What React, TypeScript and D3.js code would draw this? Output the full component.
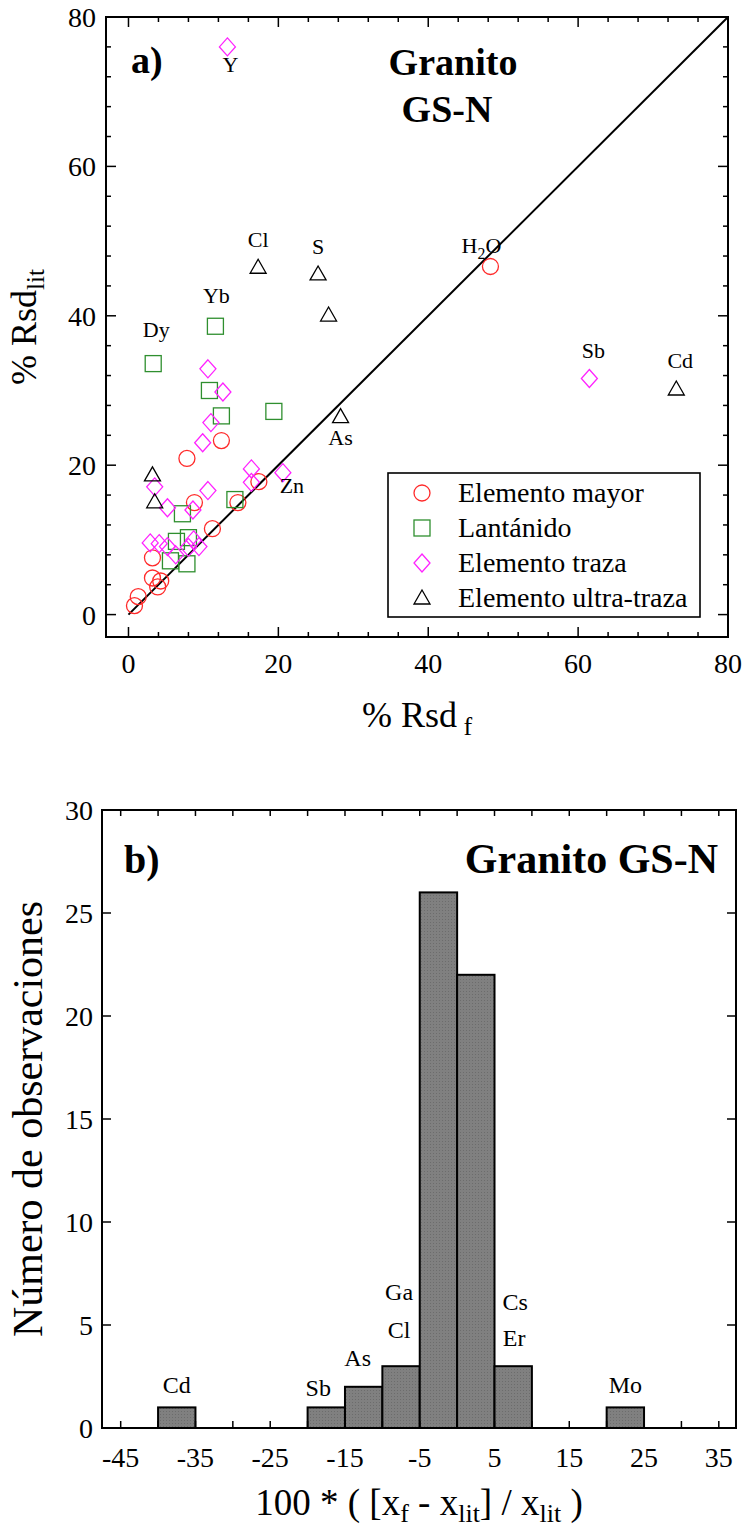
import React from 'react';
import * as d3 from 'd3';

type Pt = { el?: string; f: number; lit: number };

// Panel a) — %RSD from this work (f) versus literature (lit), GS-N granite
const mayor: Pt[] = [
  { el: 'H2O', f: 48.3, lit: 46.6 },
  { f: 12.4, lit: 23.3 }, { f: 7.8, lit: 20.9 }, { f: 17.4, lit: 17.8 },
  { f: 8.8, lit: 15.0 }, { f: 14.6, lit: 15.0 }, { f: 11.2, lit: 11.5 },
  { f: 3.2, lit: 7.6 }, { f: 3.2, lit: 4.9 }, { f: 4.3, lit: 4.5 },
  { f: 3.9, lit: 3.7 }, { f: 1.3, lit: 2.4 }, { f: 0.8, lit: 1.2 },
];
const lantanido: Pt[] = [
  { el: 'Dy', f: 3.3, lit: 33.6 }, { el: 'Yb', f: 11.6, lit: 38.6 },
  { f: 10.8, lit: 30.0 }, { f: 12.4, lit: 26.6 }, { f: 19.4, lit: 27.2 },
  { f: 14.2, lit: 15.4 }, { f: 7.2, lit: 13.5 }, { f: 6.4, lit: 9.8 },
  { f: 8.0, lit: 10.3 }, { f: 5.6, lit: 7.2 }, { f: 7.8, lit: 6.8 },
];
const traza: Pt[] = [
  { el: 'Y', f: 13.2, lit: 76.0 }, { el: 'Sb', f: 61.5, lit: 31.6 },
  { f: 10.6, lit: 32.9 }, { f: 12.6, lit: 29.8 }, { f: 11.0, lit: 25.7 },
  { f: 9.9, lit: 23.0 }, { f: 16.4, lit: 19.5 }, { el: 'Zn', f: 20.6, lit: 19.0 },
  { f: 16.4, lit: 17.7 }, { f: 3.5, lit: 17.1 }, { f: 10.6, lit: 16.6 },
  { f: 5.2, lit: 14.3 }, { f: 8.6, lit: 14.0 }, { f: 2.9, lit: 9.6 },
  { f: 4.1, lit: 9.5 }, { f: 5.2, lit: 9.1 }, { f: 8.7, lit: 10.0 },
  { f: 8.0, lit: 9.0 }, { f: 9.4, lit: 9.1 }, { f: 6.3, lit: 8.0 },
];
const ultraTraza: Pt[] = [
  { el: 'Cl', f: 17.3, lit: 46.5 }, { el: 'S', f: 25.3, lit: 45.6 },
  { f: 26.7, lit: 40.1 }, { el: 'As', f: 28.3, lit: 26.5 },
  { el: 'Cd', f: 73.1, lit: 30.2 }, { f: 3.2, lit: 18.7 }, { f: 3.5, lit: 15.1 },
];

const seriesNames = ['Elemento mayor', 'Lantánido', 'Elemento traza', 'Elemento ultra-traza'];
const scatterTicks = [0, 20, 40, 60, 80];

// Panel b) — relative deviation histogram, bins of width 5
const binStarts = [-40, -20, -15, -10, -5, 0, 5, 20];
const binCounts = [1, 1, 2, 3, 26, 22, 3, 1];
const binWidth = 5;
const binLabels: { bin: number; names: string[] }[] = [
  { bin: -40, names: ['Cd'] },
  { bin: -20, names: ['Sb'] },
  { bin: -15, names: ['As'] },
  { bin: -10, names: ['Cl', 'Ga'] },
  { bin: 5, names: ['Er', 'Cs'] },
  { bin: 20, names: ['Mo'] },
];
const histXTickLabels = [-45, -35, -25, -15, -5, 5, 15, 25, 35];
const histYTicks = [0, 5, 10, 15, 20, 25, 30];

const SERIF = '"Liberation Serif", "Times New Roman", serif';

// marker styles per series
const markerStyle = [
  { shape: 'circle', color: '#ff2a2a' },
  { shape: 'square', color: '#2f8f2f' },
  { shape: 'diamond', color: '#ff22ff' },
  { shape: 'triangle', color: '#000000' },
];

function Marker({ shape, color, x, y }: { shape: string; color: string; x: number; y: number }) {
  const common = { fill: 'none', stroke: color, strokeWidth: 1.3 };
  if (shape === 'circle') return <circle cx={x} cy={y} r={8} {...common} />;
  if (shape === 'square') return <rect x={x - 8} y={y - 8} width={16} height={16} {...common} />;
  if (shape === 'diamond')
    return <path d={`M${x},${y - 9}L${x + 8},${y}L${x},${y + 9}L${x - 8},${y}Z`} {...common} />;
  return <path d={`M${x},${y - 8}L${x + 8},${y + 6}L${x - 8},${y + 6}Z`} {...common} />;
}

// label placement around labelled points (pixels)
const labelShift: Record<string, [number, number]> = {
  Y: [3, 25], Dy: [3, -27], Yb: [1, -23], Cl: [0, -20], S: [0, -20],
  As: [0, 28], Zn: [9, 20], H2O: [-9, -13], Sb: [4, -21], Cd: [4, -21],
};

function ChemLabel({ name, x, y, size }: { name: string; x: number; y: number; size: number }) {
  const parts = name.split(/(\d+)/).filter((p) => p.length > 0);
  return (
    <text x={x} y={y} dy="0.35em" textAnchor="middle" fontFamily={SERIF} fontSize={size} fill="#000">
      {parts.map((p, i) =>
        /\d/.test(p) ? (
          <tspan key={i} fontSize={size * 0.72} dy={6}>{p}</tspan>
        ) : (
          <tspan key={i} dy={i > 0 && /\d/.test(parts[i - 1]) ? -6 : 0}>{p}</tspan>
        )
      )}
    </text>
  );
}

export default function App() {
  // ---------- scatter ----------
  const L = 106, R = 728, T = 17, B = 637;
  const sx = d3.scaleLinear().domain([-3, 80]).range([L, R]);
  const sy = d3.scaleLinear().domain([-3, 80]).range([B, T]);
  const minor = d3.range(0, 81, 4).filter((v) => v % 20 !== 0);
  const series = [mayor, lantanido, traza, ultraTraza];

  const scatterTickLines: React.ReactNode[] = [];
  const addTicks = (vals: number[], len: number, key: string) => {
    vals.forEach((v) => {
      const px = sx(v), py = sy(v);
      scatterTickLines.push(
        <line key={`${key}b${v}`} x1={px} x2={px} y1={B} y2={B - len} />,
        <line key={`${key}t${v}`} x1={px} x2={px} y1={T} y2={T + len} />,
        <line key={`${key}l${v}`} x1={L} x2={L + len} y1={py} y2={py} />,
        <line key={`${key}r${v}`} x1={R} x2={R - len} y1={py} y2={py} />
      );
    });
  };
  addTicks(scatterTicks, 10, 'M');
  addTicks(minor, 5, 'm');

  // ---------- histogram ----------
  const hL = 102, hR = 736, hT = 810, hB = 1428;
  const hx = d3.scaleLinear().domain([-47.5, 37.3]).range([hL, hR]);
  const hy = d3.scaleLinear().domain([0, 30]).range([hB, hT]);
  const xTicks = d3.range(-45, 36, 5);

  const labelLift: Record<string, number> = {
    Cd: 14, Sb: 11, As: 21, Cl: 28, Ga: 66, Er: 20, Cs: 56, Mo: 14,
  };
  const labelDx: Record<string, number> = { Sb: -8, As: -6, Cl: -2, Ga: -2, Er: 1, Cs: 2 };

  return (
    <svg
      width={744}
      height={1529}
      viewBox="0 0 744 1529"
      style={{ position: 'absolute', left: 0, top: 0, display: 'block', background: '#fff' }}
    >
      <defs>
        <pattern id="barGrain" width={3} height={3} patternUnits="userSpaceOnUse">
          <rect width={3} height={3} fill="#808080" />
          <rect x={1} y={1} width={1} height={1} fill="#6c6c6c" />
        </pattern>
      </defs>

      {/* ================= a) ================= */}
      <line x1={sx(0)} y1={sy(0)} x2={sx(80)} y2={sy(80)} stroke="#000" strokeWidth={2} />

      {series.map((pts, si) =>
        pts.map((p, i) => (
          <Marker key={`p${si}-${i}`} shape={markerStyle[si].shape} color={markerStyle[si].color} x={sx(p.f)} y={sy(p.lit)} />
        ))
      )}

      {series.flatMap((pts) => pts.filter((p) => p.el)).map((p) => {
        const [dx, dy] = labelShift[p.el as string] || [0, -20];
        return <ChemLabel key={`lab${p.el}`} name={p.el as string} x={sx(p.f) + dx} y={sy(p.lit) + dy} size={22} />;
      })}

      <g stroke="#000" strokeWidth={1.5}>{scatterTickLines}</g>
      <rect x={L} y={T} width={R - L} height={B - T} fill="none" stroke="#000" strokeWidth={2} />

      {scatterTicks.map((v) => (
        <text key={`sxl${v}`} x={sx(v)} y={673} textAnchor="middle" fontFamily={SERIF} fontSize={28}>{v}</text>
      ))}
      {scatterTicks.map((v) => (
        <text key={`syl${v}`} x={96} y={sy(v) + 10} textAnchor="end" fontFamily={SERIF} fontSize={28}>{v}</text>
      ))}

      <text x={(L + R) / 2} y={727} textAnchor="middle" fontFamily={SERIF} fontSize={36}>
        % Rsd<tspan fontSize={26} dy={8}> f</tspan>
      </text>
      <text transform={`translate(36,${(T + B) / 2}) rotate(-90)`} textAnchor="middle" fontFamily={SERIF} fontSize={36}>
        % Rsd<tspan fontSize={25} dy={8}>lit</tspan>
      </text>

      <text x={131} y={73} fontFamily={SERIF} fontWeight="bold" fontSize={38}>a)</text>
      <text x={453} y={75} textAnchor="middle" fontFamily={SERIF} fontWeight="bold" fontSize={38}>Granito</text>
      <text x={447} y={122} textAnchor="middle" fontFamily={SERIF} fontWeight="bold" fontSize={38}>GS-N</text>

      {/* legend */}
      <rect x={388} y={473} width={312} height={144} fill="#fff" stroke="#000" strokeWidth={1.6} />
      {seriesNames.map((name, i) => {
        const cy = 493 + i * 35;
        return (
          <g key={`leg${i}`}>
            <Marker shape={markerStyle[i].shape} color={markerStyle[i].color} x={422} y={cy} />
            <text x={458} y={cy + 9} fontFamily={SERIF} fontSize={28}>{name}</text>
          </g>
        );
      })}

      {/* ================= b) ================= */}
      {binStarts.map((b, i) => (
        <rect
          key={`bar${b}`}
          x={hx(b)}
          y={hy(binCounts[i])}
          width={hx(b + binWidth) - hx(b)}
          height={hy(0) - hy(binCounts[i])}
          fill="url(#barGrain)"
          stroke="#000"
          strokeWidth={2}
        />
      ))}

      {binLabels.flatMap(({ bin, names }) => {
        const idx = binStarts.indexOf(bin);
        const top = hy(binCounts[idx]);
        const cx = hx(bin + binWidth / 2);
        return names.map((n) => (
          <text key={`hl${n}`} x={cx + (labelDx[n] || 0)} y={top - labelLift[n]} textAnchor="middle" fontFamily={SERIF} fontSize={24}>
            {n}
          </text>
        ));
      })}

      <g stroke="#000" strokeWidth={1.5}>
        {xTicks.map((v) => (
          <g key={`hxt${v}`}>
            <line x1={hx(v)} x2={hx(v)} y1={hB} y2={hB - 7} />
            <line x1={hx(v)} x2={hx(v)} y1={hT} y2={hT + 6} />
          </g>
        ))}
        {histYTicks.map((v) => (
          <g key={`hyt${v}`}>
            <line x1={hL} x2={hL + 9} y1={hy(v)} y2={hy(v)} />
            <line x1={hR} x2={hR - 9} y1={hy(v)} y2={hy(v)} />
          </g>
        ))}
      </g>
      <rect x={hL} y={hT} width={hR - hL} height={hB - hT} fill="none" stroke="#000" strokeWidth={2} />

      {histXTickLabels.map((v) => (
        <text key={`hxl${v}`} x={hx(v)} y={1467} textAnchor="middle" fontFamily={SERIF} fontSize={28}>{v}</text>
      ))}
      {histYTicks.map((v) => (
        <text key={`hyl${v}`} x={93} y={hy(v) + 10} textAnchor="end" fontFamily={SERIF} fontSize={28}>{v}</text>
      ))}

      <text x={(hL + hR) / 2} y={1515} textAnchor="middle" fontFamily={SERIF} fontSize={37}>
        100 * ( [x<tspan fontSize={26} dy={7}>f</tspan>
        <tspan dy={-7}> - x</tspan>
        <tspan fontSize={26} dy={7}>lit</tspan>
        <tspan dy={-7}>] / x</tspan>
        <tspan fontSize={26} dy={7}>lit</tspan>
        <tspan dy={-7}> )</tspan>
      </text>
      <text transform={`translate(42,${(hT + hB) / 2}) rotate(-90)`} textAnchor="middle" fontFamily={SERIF} fontSize={42}>
        Número de observaciones
      </text>

      <text x={124} y={873} fontFamily={SERIF} fontWeight="bold" fontSize={40}>b)</text>
      <text x={718} y={873} textAnchor="end" fontFamily={SERIF} fontWeight="bold" fontSize={42}>Granito GS-N</text>
    </svg>
  );
}
